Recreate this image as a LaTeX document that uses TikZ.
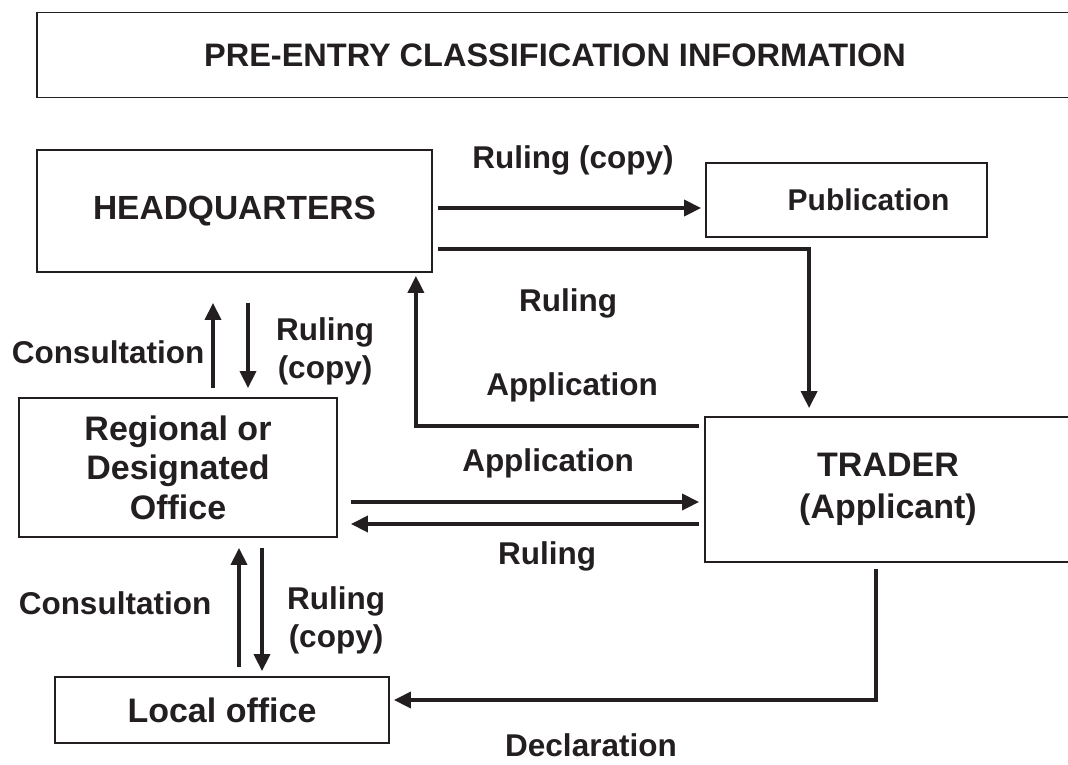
\documentclass[tikz,border=0pt]{standalone}
\usepackage{fontspec}
\setmainfont{Liberation Sans}
\usepackage{tikz}
\usetikzlibrary{arrows.meta, calc, positioning}
\usepackage{xcolor}
\definecolor{InkBlack}{HTML}{231F20}
\tikzset{%
  office_block/.style={%
    rectangle,%
    draw=InkBlack,%
    line width=1.8pt,%
    text=InkBlack,%
    font={\bfseries\fontsize{34}{41}\selectfont},%
    align=center%
  },
  flow_path/.style={%
    color=InkBlack,%
    line width=3.5pt,%
    line join=miter,%
    shorten >=0pt%
  },
  flow_annotate/.style={%
    text=InkBlack,%
    font={\bfseries\fontsize{31.5}{38}\selectfont},%
    align=center,%
  },
  arrow/.style={-{Triangle[length=17pt, width=16pt]}},
}
\begin{document}
\begin{tikzpicture}[x=1pt, y=-1pt]

    \clip (0,0) rectangle (1068,764);

    \node [office_block, minimum width=1036, minimum height=85,
      font={\bfseries\fontsize{32.5}{38}\selectfont}] (Banner) at (555,55)
      {PRE-ENTRY CLASSIFICATION INFORMATION};
    \node [office_block, minimum width=395, minimum height=122,
      font={\bfseries\fontsize{33.5}{40}\selectfont}] (HQ) at (234.5,211) {HEADQUARTERS};
    \node [office_block, minimum width=281, minimum height=74,
      font={\bfseries\fontsize{30}{34}\selectfont}] (Publication) at (846.5,200)
      {\hspace*{44pt}Publication};
    \node [office_block, minimum width=366, minimum height=145,
      font={\bfseries\fontsize{34}{42}\selectfont}] (Trader) at (888,489.5) {TRADER\\(Applicant)};
    \node [office_block, minimum width=318, minimum height=139,
      font={\bfseries\fontsize{34}{39.5}\selectfont}] (Regional) at (178,467.5)
      {Regional or\\Designated\\Office};
    \node [office_block, minimum width=334, minimum height=66] (Local) at (222,710) {Local office};

    \node [flow_annotate] (ruling_copy_pub) at (573,160) {Ruling (copy)};
    \node [flow_annotate] (ruling_hq) at (568,303) {Ruling};
    \node [flow_annotate] (application_hq) at (572,387) {Application};
    \node [flow_annotate] (application_reg) at (548,463) {Application};
    \node [flow_annotate] (ruling_reg) at (547,556) {Ruling};
    \node [flow_annotate] (consult_hq) at (108,352) {Consultation};
    \node [flow_annotate] (ruling_copy_hq) at (325,351) {Ruling\\(copy)};
    \node [flow_annotate] (consult_reg) at (115,603) {Consultation};
    \node [flow_annotate] (ruling_copy_reg) at (336,620) {Ruling\\(copy)};
    \node [flow_annotate] (declaration) at (591,745) {Declaration};

    \draw [arrow, flow_path]
      ([xshift=5pt, yshift=3pt]HQ.east) coordinate (hq_pub)
      --
      ([xshift=-4pt]Publication.west |- hq_pub);
    \draw [arrow, flow_path]
      ([xshift=5pt, yshift=-38pt]HQ.east)
      -|
      ([xshift=105pt, yshift=8pt]Trader.north west);
    \draw [arrow, flow_path]
      ([xshift=-5pt, yshift=-10pt]Trader.north west)
      -|
      ([xshift=-17pt, yshift=-3pt]HQ.south east);
    \draw [arrow, flow_path]
      ([xshift=13pt, yshift=-34.5pt]Regional.east) coordinate (reg_trader)
      --
      ([xshift=-5pt]Trader.west |- reg_trader);
    \draw [arrow, flow_path]
      ([xshift=-5pt, yshift=-34.5pt]Trader.west) coordinate (trader_reg)
      --
      ([xshift=13pt]Regional.east |- trader_reg);
    \draw [arrow, flow_path, shorten <=9pt, shorten >=30pt]
      ([xshift=35pt]Regional.north)
      --
      ([xshift=35pt]Regional.north |- HQ.south);
    \draw [arrow, flow_path, shorten <=30pt, shorten >=9pt]
      ([xshift=70pt]Regional.north |- HQ.south)
      --
      ([xshift=70pt]Regional.north);
    \draw [arrow, flow_path, shorten <=9pt, shorten >=10pt]
      ([xshift=61pt]Regional.south |- Local.north)
      --
      ([xshift=61pt]Regional.south);
    \draw [arrow, flow_path, shorten <=10pt, shorten >=5pt]
      ([xshift=84pt]Regional.south)
      --
      ([xshift=40pt]Local.north);
    \draw [arrow, flow_path]
      ([xshift=-12pt, yshift=-6pt]Trader.south)
      |-
      ([xshift=4pt, yshift=10pt]Local.east);
  \end{tikzpicture}
\end{document}
